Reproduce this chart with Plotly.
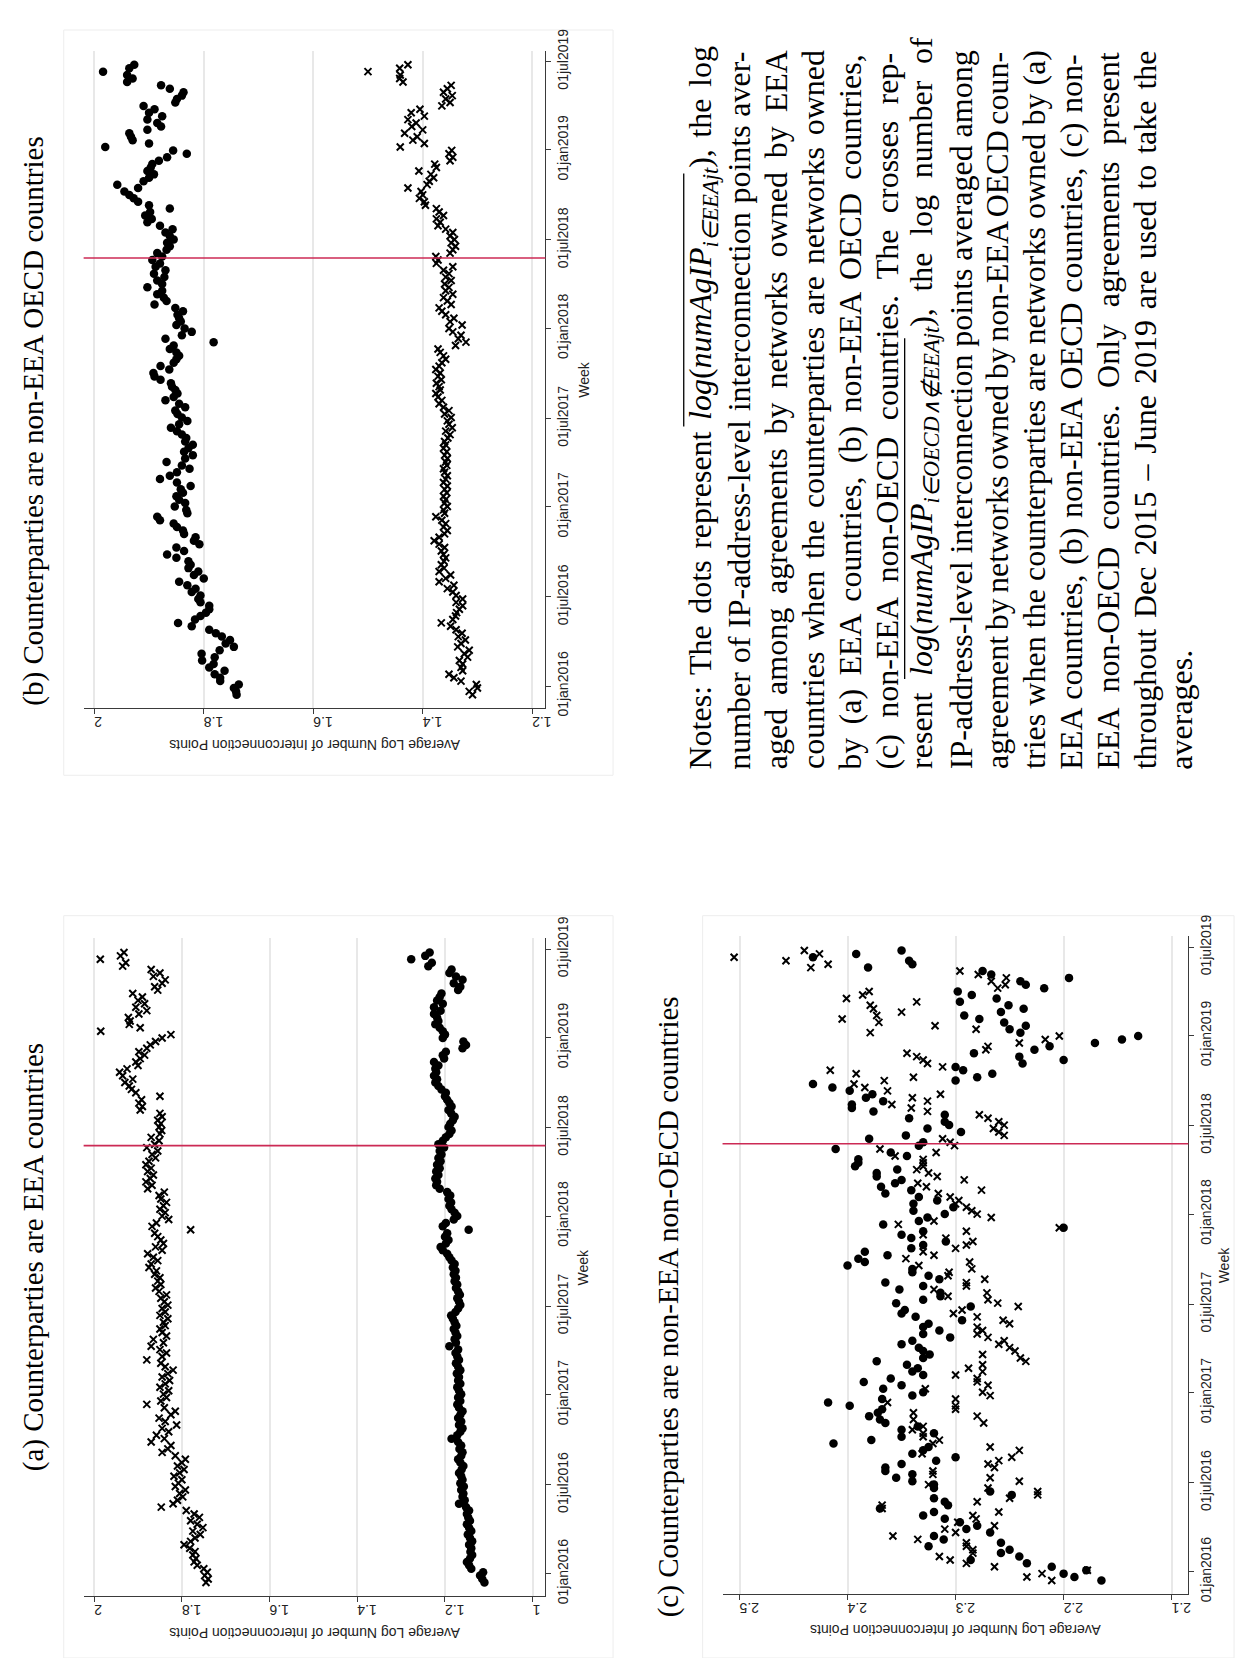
import pandas as pd
import plotly.graph_objects as go

W, H = 1247, 1658


def px(x):
    return x / W


def py(y):
    return 1 - y / H


# ---------------- data (weekly, from mid-Dec 2015 to end of June 2019) ----------------
week_start = '2015-12-14'

# Panel (a): counterparties are EEA countries
A_dots = [
    1.110, 1.115, 1.120, 1.113, 1.140, 1.145, 1.150, 1.143, 1.138, 1.142,
    1.140, 1.145, 1.138, 1.143, 1.148, 1.140, 1.145, 1.150, 1.143, 1.147,
    1.150, 1.145, 1.152, 1.168, 1.155, 1.160, 1.158, 1.163, 1.157, 1.165,
    1.160, 1.163, 1.168, 1.162, 1.158, 1.165, 1.170, 1.163, 1.160, 1.167,
    1.163, 1.170, 1.185, 1.172, 1.165, 1.160, 1.168, 1.163, 1.170, 1.165,
    1.160, 1.168, 1.172, 1.165, 1.170, 1.163, 1.168, 1.172, 1.165, 1.170,
    1.168, 1.173, 1.165, 1.170, 1.175, 1.168, 1.172, 1.176, 1.170, 1.190,
    1.175, 1.178, 1.172, 1.176, 1.180, 1.174, 1.178, 1.182, 1.186, 1.176,
    1.170, 1.165, 1.168, 1.172, 1.166, 1.170, 1.175, 1.172, 1.178, 1.175,
    1.180, 1.176, 1.182, 1.178, 1.185, 1.190, 1.195, 1.205, 1.210, 1.198,
    1.192, 1.200, 1.195, 1.146, 1.205, 1.198, 1.180, 1.172, 1.178, 1.185,
    1.190, 1.186, 1.192, 1.188, 1.195, 1.212, 1.220, 1.218, 1.222, 1.215,
    1.220, 1.212, 1.218, 1.210, 1.215, 1.208, 1.212, 1.202, 1.215, 1.205,
    1.198, 1.190, 1.185, 1.192, 1.188, 1.182, 1.178, 1.186, 1.192, 1.185,
    1.190, 1.195, 1.200, 1.198, 1.208, 1.215, 1.222, 1.218, 1.225, 1.220,
    1.222, 1.215, 1.225, 1.202, 1.205, 1.198, 1.160, 1.152, 1.158, 1.205,
    1.200, 1.205, 1.212, 1.222, 1.215, 1.218, 1.225, 1.210, 1.225, 1.205,
    1.218, 1.212, 1.208, 1.170, 1.165, 1.180, 1.160, 1.175, 1.190, 1.185,
    1.238, 1.230, 1.277, 1.245, 1.235,
]
A_crosses = [
    1.745, 1.740, 1.748, 1.742, 1.750, 1.765, 1.772, 1.768, 1.775, 1.770,
    1.782, 1.795, 1.780, 1.770, 1.758, 1.775, 1.752, 1.765, 1.780, 1.760,
    1.772, 1.790, 1.847, 1.820, 1.810, 1.798, 1.805, 1.792, 1.815, 1.808,
    1.800, 1.818, 1.805, 1.795, 1.810, 1.800, 1.792, 1.815, 1.845, 1.832,
    1.825, 1.870, 1.840, 1.858, 1.830, 1.845, 1.812, 1.838, 1.852, 1.825,
    1.815, 1.840, 1.880, 1.848, 1.835, 1.842, 1.830, 1.850, 1.838, 1.828,
    1.845, 1.832, 1.820, 1.838, 1.848, 1.880, 1.845, 1.835, 1.850, 1.870,
    1.842, 1.865, 1.835, 1.845, 1.850, 1.838, 1.842, 1.832, 1.850, 1.838,
    1.845, 1.832, 1.840, 1.848, 1.835, 1.852, 1.860, 1.848, 1.855, 1.850,
    1.862, 1.858, 1.875, 1.870, 1.855, 1.865, 1.878, 1.845, 1.860, 1.842,
    1.848, 1.855, 1.862, 1.780, 1.868, 1.858, 1.830, 1.845, 1.838, 1.850,
    1.842, 1.835, 1.848, 1.852, 1.840, 1.878, 1.868, 1.882, 1.872, 1.865,
    1.878, 1.870, 1.882, 1.875, 1.860, 1.868, 1.855, 1.880, 1.862, 1.852,
    1.870, 1.850, 1.846, 1.852, 1.848, 1.855, 1.845, 1.850, 1.895, 1.890,
    1.898, 1.892, 1.850, 1.905, 1.915, 1.920, 1.930, 1.912, 1.935, 1.942,
    1.925, 1.900, 1.905, 1.895, 1.885, 1.898, 1.880, 1.872, 1.860, 1.845,
    1.825, 1.985, 1.895, 1.920, 1.918, 1.922, 1.898, 1.880, 1.905, 1.885,
    1.900, 1.890, 1.912, 1.855, 1.862, 1.845, 1.838, 1.865, 1.850, 1.870,
    1.935, 1.928, 1.986, 1.940, 1.932,
]

# Panel (b): counterparties are non-EEA OECD countries
B_dots = [
    1.740, 1.741, 1.745, 1.736, 1.770, 1.770, 1.780, 1.762, 1.790, 1.782,
    1.803, 1.780, 1.804, 1.771, 1.745, 1.760, 1.752, 1.767, 1.778, 1.790,
    1.822, 1.847, 1.816, 1.806, 1.796, 1.790, 1.790, 1.806, 1.810, 1.806,
    1.822, 1.815, 1.830, 1.845, 1.800, 1.818, 1.810, 1.828, 1.824, 1.828,
    1.850, 1.867, 1.836, 1.850, 1.808, 1.818, 1.815, 1.836, 1.838, 1.849,
    1.855, 1.880, 1.885, 1.830, 1.832, 1.853, 1.834, 1.845, 1.850, 1.838,
    1.842, 1.824, 1.849, 1.880, 1.862, 1.849, 1.826, 1.840, 1.868, 1.834,
    1.820, 1.836, 1.828, 1.820, 1.834, 1.832, 1.840, 1.849, 1.860, 1.845,
    1.830, 1.840, 1.848, 1.852, 1.834, 1.845, 1.870, 1.855, 1.848, 1.852,
    1.858, 1.860, 1.879, 1.890, 1.892, 1.863, 1.879, 1.855, 1.850, 1.845,
    1.850, 1.862, 1.855, 1.782, 1.870, 1.840, 1.822, 1.835, 1.850, 1.842,
    1.845, 1.848, 1.838, 1.852, 1.890, 1.868, 1.873, 1.885, 1.876, 1.903,
    1.876, 1.885, 1.872, 1.891, 1.870, 1.888, 1.880, 1.894, 1.876, 1.885,
    1.868, 1.862, 1.867, 1.855, 1.862, 1.870, 1.857, 1.880, 1.903, 1.895,
    1.907, 1.898, 1.862, 1.900, 1.920, 1.928, 1.936, 1.945, 1.920, 1.958,
    1.910, 1.900, 1.891, 1.903, 1.897, 1.894, 1.882, 1.867, 1.831, 1.856,
    1.980, 1.900, 1.930, 1.933, 1.936, 1.903, 1.878, 1.885, 1.903, 1.876,
    1.900, 1.890, 1.910, 1.852, 1.849, 1.840, 1.837, 1.862, 1.878, 1.940,
    1.930, 1.940, 1.984, 1.936, 1.927,
]
B_crosses = [
    1.309, 1.315, 1.300, 1.302, 1.330, 1.343, 1.352, 1.327, 1.330, 1.327,
    1.333, 1.318, 1.324, 1.315, 1.336, 1.330, 1.322, 1.335, 1.328, 1.339,
    1.349, 1.366, 1.345, 1.340, 1.338, 1.333, 1.327, 1.339, 1.327, 1.339,
    1.345, 1.355, 1.343, 1.370, 1.358, 1.349, 1.370, 1.361, 1.366, 1.361,
    1.358, 1.362, 1.366, 1.360, 1.370, 1.379, 1.370, 1.360, 1.355, 1.362,
    1.358, 1.365, 1.376, 1.360, 1.362, 1.355, 1.360, 1.358, 1.362, 1.356,
    1.360, 1.355, 1.362, 1.358, 1.355, 1.360, 1.362, 1.356, 1.358, 1.355,
    1.360, 1.356, 1.362, 1.358, 1.360, 1.354, 1.350, 1.358, 1.346, 1.352,
    1.355, 1.348, 1.360, 1.352, 1.362, 1.370, 1.365, 1.372, 1.376, 1.368,
    1.370, 1.375, 1.366, 1.372, 1.368, 1.376, 1.370, 1.365, 1.358, 1.362,
    1.368, 1.372, 1.340, 1.321, 1.335, 1.330, 1.345, 1.352, 1.328, 1.350,
    1.343, 1.358, 1.365, 1.370, 1.348, 1.355, 1.362, 1.345, 1.358, 1.352,
    1.360, 1.348, 1.358, 1.352, 1.362, 1.345, 1.375, 1.372, 1.376, 1.350,
    1.345, 1.340, 1.348, 1.342, 1.350, 1.345, 1.358, 1.372, 1.368, 1.375,
    1.362, 1.370, 1.375, 1.395, 1.397, 1.406, 1.400, 1.403, 1.427, 1.392,
    1.388, 1.380, 1.385, 1.407, 1.375, 1.378, 1.350, 1.345, 1.352, 1.347,
    1.441, 1.397, 1.418, 1.410, 1.433, 1.400, 1.420, 1.412, 1.427, 1.397,
    1.421, 1.405, 1.365, 1.350, 1.358, 1.346, 1.362, 1.355, 1.348, 1.436,
    1.442, 1.441, 1.500, 1.442, 1.427,
]

# Panel (c): counterparties are non-EEA non-OECD countries
C_dots = [
    2.165, 2.190, 2.200, 2.179, 2.211, 2.234, 2.286, 2.241, 2.258, 2.250,
    2.325, 2.258, 2.311, 2.320, 2.268, 2.290, 2.280, 2.296, 2.310, 2.330,
    2.320, 2.370, 2.307, 2.310, 2.320, 2.248, 2.268, 2.320, 2.320, 2.340,
    2.355, 2.340, 2.365, 2.365, 2.350, 2.318, 2.300, 2.340, 2.330, 2.325,
    2.413, 2.378, 2.350, 2.320, 2.350, 2.335, 2.365, 2.370, 2.380, 2.372,
    2.368, 2.398, 2.418, 2.368, 2.340, 2.330, 2.367, 2.350, 2.385, 2.360,
    2.330, 2.340, 2.335, 2.345, 2.373, 2.330, 2.324, 2.330, 2.334, 2.350,
    2.340, 2.305, 2.330, 2.315, 2.330, 2.325, 2.294, 2.337, 2.350, 2.347,
    2.286, 2.355, 2.330, 2.314, 2.314, 2.352, 2.330, 2.365, 2.315, 2.325,
    2.340, 2.340, 2.400, 2.384, 2.390, 2.363, 2.384, 2.341, 2.330, 2.309,
    2.341, 2.350, 2.330, 2.200, 2.367, 2.334, 2.326, 2.310, 2.339, 2.302,
    2.339, 2.317, 2.334, 2.365, 2.341, 2.369, 2.356, 2.350, 2.373, 2.373,
    2.354, 2.393, 2.390, 2.390, 2.345, 2.360, 2.411, 2.334, 2.330, 2.380,
    2.346, 2.295, 2.326, 2.306, 2.310, 2.343, 2.310, 2.376, 2.396, 2.396,
    2.367, 2.383, 2.377, 2.398, 2.414, 2.432, 2.300, 2.280, 2.266, 2.293,
    2.300, 2.238, 2.200, 2.241, 2.283, 2.227, 2.213, 2.171, 2.146, 2.131,
    2.240, 2.250, 2.235, 2.255, 2.278, 2.292, 2.258, 2.237, 2.251, 2.296,
    2.262, 2.285, 2.298, 2.218, 2.235, 2.240, 2.195, 2.267, 2.275, 2.381,
    2.340, 2.343, 2.432, 2.392, 2.350,
]
C_crosses = [
    2.211, 2.234, 2.220, 2.178, 2.264, 2.290, 2.305, 2.315, 2.284, 2.284,
    2.290, 2.290, 2.335, 2.358, 2.300, 2.310, 2.264, 2.298, 2.281, 2.284,
    2.260, 2.368, 2.368, 2.280, 2.250, 2.224, 2.224, 2.270, 2.325, 2.241,
    2.268, 2.321, 2.321, 2.264, 2.270, 2.260, 2.248, 2.331, 2.241, 2.268,
    2.321, 2.315, 2.330, 2.330, 2.340, 2.330, 2.274, 2.339, 2.280, 2.339,
    2.300, 2.300, 2.363, 2.300, 2.268, 2.275, 2.328, 2.270, 2.280, 2.280,
    2.300, 2.275, 2.288, 2.275, 2.235, 2.240, 2.275, 2.245, 2.250, 2.260,
    2.255, 2.270, 2.280, 2.275, 2.280, 2.250, 2.256, 2.280, 2.302, 2.294,
    2.242, 2.261, 2.270, 2.307, 2.271, 2.320, 2.290, 2.290, 2.273, 2.307,
    2.306, 2.285, 2.334, 2.287, 2.346, 2.320, 2.330, 2.300, 2.290, 2.284,
    2.309, 2.330, 2.290, 2.204, 2.353, 2.320, 2.267, 2.280, 2.285, 2.290,
    2.300, 2.297, 2.305, 2.316, 2.276, 2.327, 2.335, 2.292, 2.317, 2.325,
    2.336, 2.330, 2.330, 2.330, 2.356, 2.318, 2.370, 2.301, 2.305, 2.312,
    2.255, 2.260, 2.265, 2.255, 2.260, 2.270, 2.278, 2.326, 2.341, 2.359,
    2.326, 2.340, 2.314, 2.363, 2.384, 2.394, 2.366, 2.339, 2.392, 2.416,
    2.312, 2.326, 2.330, 2.336, 2.345, 2.272, 2.270, 2.241, 2.217, 2.204,
    2.379, 2.281, 2.319, 2.371, 2.405, 2.373, 2.350, 2.376, 2.379, 2.336,
    2.401, 2.386, 2.380, 2.261, 2.254, 2.267, 2.253, 2.279, 2.296, 2.434,
    2.418, 2.457, 2.505, 2.426, 2.440,
]

date_tick_vals = ['2016-01-01', '2016-07-01', '2017-01-01', '2017-07-01',
                  '2018-01-01', '2018-07-01', '2019-01-01', '2019-07-01']
date_tick_text = ['01jan2016', '01jul2016', '01jan2017', '01jul2017',
                  '01jan2018', '01jul2018', '01jan2019', '01jul2019']
ticks_ab = [2, 1.8, 1.6, 1.4, 1.2]
ticks_a = [2, 1.8, 1.6, 1.4, 1.2, 1]
ticks_c = [2.5, 2.4, 2.3, 2.2, 2.1]
gdpr_date = '2018-05-25'

titles = {
    'b': '(b) Counterparties are non-EEA OECD countries',
    'a': '(a) Counterparties are EEA countries',
    'c': '(c) Counterparties are non-EEA non-OECD countries',
}
value_title = 'Average Log Number of Interconnection Points'
week_title = 'Week'

# ---------------- figure ----------------
weeks = pd.date_range(week_start, periods=185, freq='7D')
date_range = ['2015-11-16', '2019-07-23']

SANS = 'Liberation Sans, Arial, sans-serif'
SERIF = 'Liberation Serif, Times New Roman, serif'
AXC = '#3a3a3a'

panels = [
    dict(k='', title=titles['b'], xdom=(76, 540), ydom=(21, 691), xr=[2.0195, 1.1758],
         ticks=ticks_ab, dots=B_dots, crosses=B_crosses, tx=26, ty=398, wx=578),
    dict(k='2', title=titles['a'], xdom=(76, 540), ydom=(925, 1595), xr=[2.024, 0.971],
         ticks=ticks_a, dots=A_dots, crosses=A_crosses, tx=26, ty=1250, wx=578),
    dict(k='3', title=titles['c'], xdom=(718, 1186), ydom=(923, 1593), xr=[2.5157, 2.0846],
         ticks=ticks_c, dots=C_dots, crosses=C_crosses, tx=664, ty=1300, wx=1222),
]

fig = go.Figure()
shapes = []
annotations = []
layout = {}

frames = [(56, 0, 608, 759), (56, 902, 608, 1658), (698, 902, 1232, 1658)]
for (x0, y0, x1, y1) in frames:
    shapes.append(dict(type='rect', xref='paper', yref='paper', x0=px(x0), x1=px(x1),
                       y0=py(y1), y1=py(y0), line=dict(color='#ededed', width=1),
                       fillcolor='rgba(0,0,0,0)', layer='below'))

for p in panels:
    k = p['k']
    xa, ya = 'x' + k, 'y' + k
    fig.add_trace(go.Scatter(
        x=p['crosses'], y=weeks[:len(p['crosses'])], xaxis=xa, yaxis=ya, mode='markers',
        marker=dict(symbol='x-thin', size=7, color='black', line=dict(width=2, color='black')),
        hoverinfo='skip', showlegend=False))
    fig.add_trace(go.Scatter(
        x=p['dots'], y=weeks[:len(p['dots'])], xaxis=xa, yaxis=ya, mode='markers',
        marker=dict(symbol='circle', size=8.5, color='black', line=dict(width=0)),
        hoverinfo='skip', showlegend=False))

    layout['xaxis' + k] = dict(
        domain=[px(p['xdom'][0]), px(p['xdom'][1])], anchor=ya, range=p['xr'],
        tickvals=p['ticks'], ticktext=[f'{t:g}' for t in p['ticks']], tickangle=180,
        tickfont=dict(family=SANS, size=14, color='#222'),
        showline=True, linecolor=AXC, linewidth=1, ticks='outside', ticklen=5,
        tickcolor=AXC, showgrid=True, gridcolor='#e8e8e8', gridwidth=1.5,
        zeroline=False, fixedrange=True)
    layout['yaxis' + k] = dict(
        domain=[py(p['ydom'][1]), py(p['ydom'][0])], anchor=xa, type='date',
        range=date_range, side='right', tickvals=date_tick_vals, ticktext=date_tick_text,
        tickangle=-90, tickfont=dict(family=SANS, size=14, color='#222'),
        showline=True, linecolor=AXC, linewidth=1, ticks='outside', ticklen=5,
        tickcolor=AXC, showgrid=False, zeroline=False, fixedrange=True)

    shapes.append(dict(type='line', xref=xa + ' domain', yref=ya, x0=0, x1=1,
                       y0=gdpr_date, y1=gdpr_date, line=dict(color='#cc2a55', width=1.6)))

    annotations.append(dict(text=p['title'], xref='paper', yref='paper', x=px(p['tx']),
                            y=py(p['ty']), textangle=-90, showarrow=False,
                            xanchor='center', yanchor='middle',
                            font=dict(family=SERIF, size=29, color='black')))
    xc = (p['xdom'][0] + p['xdom'][1]) / 2
    annotations.append(dict(text=value_title, xref='paper', yref='paper', x=px(xc),
                            y=py(p['ydom'][1] + 37), textangle=180, showarrow=False,
                            xanchor='center', yanchor='middle',
                            font=dict(family=SANS, size=14, color='#222')))
    yc = (p['ydom'][0] + p['ydom'][1]) / 2
    annotations.append(dict(text=week_title, xref='paper', yref='paper', x=px(p['wx']),
                            y=py(yc), textangle=-90, showarrow=False,
                            xanchor='center', yanchor='middle',
                            font=dict(family=SANS, size=14, color='#222')))

# ---------------- notes (rotated, justified) ----------------
TR = {' ': 250, '!': 333, '(': 333, ')': 333, ',': 250, '-': 333, '.': 250, ':': 278,
      '–': 500, '∈': 667, '∧': 600, '∉': 667}
for c in '0123456789':
    TR[c] = 500
TR.update(dict(A=722, B=667, C=667, D=722, E=611, F=556, G=722, H=722, I=333, J=389,
               K=722, L=611, M=889, N=722, O=722, P=556, Q=722, R=667, S=556, T=611,
               U=722, V=722, W=944, X=722, Y=722, Z=611))
TR.update(dict(a=444, b=500, c=444, d=500, e=444, f=333, g=500, h=500, i=278, j=278,
               k=500, l=278, m=778, n=500, o=500, p=500, q=500, r=333, s=389, t=278,
               u=500, v=500, w=722, x=500, y=500, z=444))
TI = dict(TR)
TI.update(dict(A=611, P=611, a=500, m=722))

FS = 32
TARGET = 719
NOTE_Y0 = 754
note_x = [698 + i * 37.0 for i in range(14)]

note_lines = [
    [('r', 'Notes: The dots represent '), ('i', 'log', 1), ('r', '(', 1), ('i', 'numAgIP', 1),
     ('s', 'i∈EEAjt', 1), ('r', ')', 1), ('r', ', the log')],
    [('r', 'number of IP-address-level interconnection points aver-')],
    [('r', 'aged among agreements by networks owned by EEA')],
    [('r', 'countries when the counterparties are networks owned')],
    [('r', 'by (a) EEA countries, (b) non-EEA OECD countries,')],
    [('r', '(c) non-EEA non-OECD countries. The crosses rep-')],
    [('r', 'resent '), ('i', 'log', 1), ('r', '(', 1), ('i', 'numAgIP', 1),
     ('s', 'i∈OECD∧∉EEAjt', 1), ('r', ')', 1), ('r', ', the log number of')],
    [('r', 'IP-address-level interconnection points averaged among')],
    [('r', 'agreement by networks owned by non-EEA OECD coun-')],
    [('r', 'tries when the counterparties are networks owned by (a)')],
    [('r', 'EEA countries, (b) non-EEA OECD countries, (c) non-')],
    [('r', 'EEA non-OECD countries. Only agreements present')],
    [('r', 'throughout Dec 2015 – June 2019 are used to take the')],
    [('r', 'averages.')],
]


def seg_width(kind, txt):
    if kind == 'r':
        return sum(TR.get(ch, 500) for ch in txt) * FS / 1000
    if kind == 'i':
        return sum(TI.get(ch, 500) for ch in txt) * FS / 1000
    return sum(TI.get(ch, 500) for ch in txt) * FS * 0.7 / 1000


for li, segs in enumerate(note_lines):
    natural = sum(seg_width(s[0], s[1]) for s in segs)
    gaps = sum(s[1].count(' ') for s in segs if s[0] == 'r')
    justify = li < len(note_lines) - 1
    extra = (TARGET - natural) / gaps if (justify and gaps) else 0.0
    html = ''
    pos = 0.0
    ov_start = ov_end = None
    for s in segs:
        kind, txt = s[0], s[1]
        w = seg_width(kind, txt) + (txt.count(' ') * extra if kind == 'r' else 0)
        if len(s) > 2:
            if ov_start is None:
                ov_start = pos
            ov_end = pos + w
        pos += w
        if kind == 'r':
            if ' ' in txt and extra:
                html += f'<span style="word-spacing:{extra:.2f}px">{txt}</span>'
            else:
                html += txt
        elif kind == 'i':
            html += f'<i>{txt}</i>'
        else:
            html += f'<sub><i>{txt}</i></sub>'
    annotations.append(dict(text=html, xref='paper', yref='paper', x=px(note_x[li]),
                            y=py(NOTE_Y0), textangle=-90, showarrow=False,
                            xanchor='center', yanchor='bottom', borderpad=0,
                            font=dict(family=SERIF, size=FS, color='black')))
    if ov_start is not None:
        xo = note_x[li] - 19
        shapes.append(dict(type='line', xref='paper', yref='paper', x0=px(xo), x1=px(xo),
                           y0=py(NOTE_Y0 - ov_start), y1=py(NOTE_Y0 - ov_end),
                           line=dict(color='black', width=1.3)))

fig.update_layout(
    width=W, height=H, margin=dict(l=0, r=0, t=0, b=0),
    paper_bgcolor='white', plot_bgcolor='white', showlegend=False,
    shapes=shapes, annotations=annotations, **layout)

fig.write_html('out.html')
